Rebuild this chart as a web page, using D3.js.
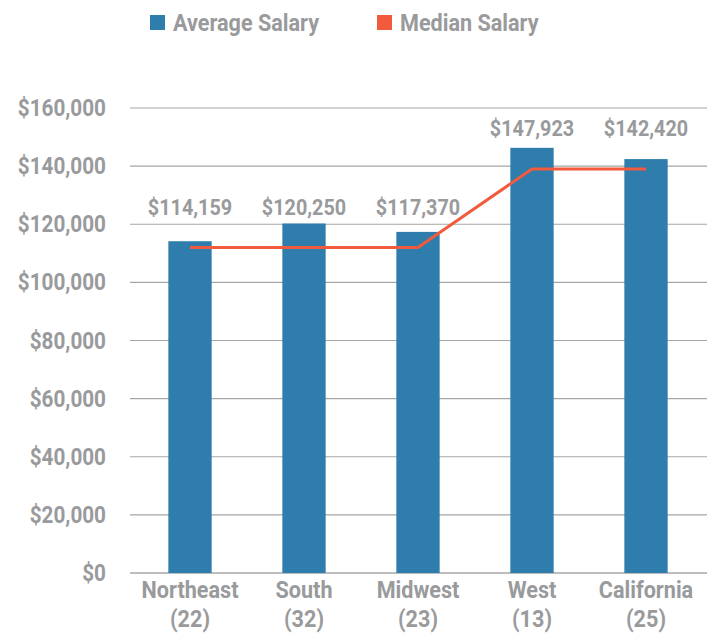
<!DOCTYPE html>
<html lang="en">
<head>
    <meta charset="UTF-8">
    <title>Salary by region</title>
    <script src="https://d3js.org/d3.v7.min.js"></script>
    <style>
        body { margin: 0; background: #fff; }
        text { font-family: Roboto, "Liberation Sans", sans-serif; font-weight: bold; fill: #999a9c; }
    </style>
</head>
<body>
    <div class="canvas"></div>
    <script>
        // data
        let regions = ["Northeast", "South", "Midwest", "West", "California"];
        let counts = ["(22)", "(32)", "(23)", "(13)", "(25)"];
        let avgSalary = [114159, 120250, 117370, 146300, 142420];   // bar heights as drawn
        let avgLabels = ["$114,159", "$120,250", "$117,370", "$147,923", "$142,420"];
        let medianSalary = [112000, 112000, 112000, 139000, 139000];
        let yTicks = [0, 20000, 40000, 60000, 80000, 100000, 120000, 140000, 160000];
        let seriesNames = ["Average Salary", "Median Salary"];

        let W = 709, H = 634;
        let blue = "#2e7dad", orange = "#f15a3d";
        let sx = 0.9; // squeeze text horizontally, the original font is condensed

        let svg = d3.select(".canvas").append("svg")
            .attr("width", W).attr("height", H);

        let x = d3.scaleBand().domain(regions).range([133, 703]).paddingInner(0.62).paddingOuter(0.31);
        let y = d3.scaleLinear().domain([0, 160000]).range([573, 108]);
        let fmt = d3.format("$,");

        function label(g, tx, ty, str, anchor, size) {
            return g.append("text")
                .attr("transform", "translate(" + tx + "," + ty + ") scale(" + sx + ",1)")
                .attr("text-anchor", anchor)
                .style("font-size", size + "px")
                .text(str);
        }

        // gridlines + y labels
        let grid = svg.append("g");
        yTicks.forEach(t => {
            grid.append("line")
                .attr("x1", 130).attr("x2", 707)
                .attr("y1", y(t)).attr("y2", y(t))
                .attr("stroke", t === 0 ? "#bdbdbd" : "#a6a6a6")
                .attr("stroke-width", t === 0 ? 2 : 1.2);
            label(grid, 106, y(t) + 8, fmt(t), "end", 23);
        });

        // bars
        svg.append("g").selectAll("rect").data(regions).enter().append("rect")
            .attr("x", d => x(d))
            .attr("y", (d, i) => y(avgSalary[i]))
            .attr("width", x.bandwidth())
            .attr("height", (d, i) => y(0) - y(avgSalary[i]))
            .attr("fill", blue);

        // median line
        let line = d3.line()
            .x((d, i) => x(regions[i]) + x.bandwidth() / 2)
            .y(d => y(d));
        svg.append("path")
            .datum(medianSalary)
            .attr("d", line)
            .attr("fill", "none")
            .attr("stroke", orange)
            .attr("stroke-width", 3);

        // value labels
        let vals = svg.append("g");
        regions.forEach((r, i) => {
            let cx = x(r) + x.bandwidth() / 2;
            label(vals, cx, y(medianSalary[i]) - 33, avgLabels[i], "middle", 22);
        });

        // category labels
        let cats = svg.append("g");
        regions.forEach((r, i) => {
            let cx = x(r) + x.bandwidth() / 2;
            label(cats, cx, 598, r, "middle", 24);
            label(cats, cx, 627, counts[i], "middle", 24);
        });

        // legend
        let leg = svg.append("g");
        let legX = [150, 377];
        seriesNames.forEach((s, i) => {
            leg.append("rect")
                .attr("x", legX[i]).attr("y", 15)
                .attr("width", 15).attr("height", 15)
                .attr("fill", i === 0 ? blue : orange);
            label(leg, legX[i] + 23, 31, s, "start", 24);
        });
    </script>
</body>
</html>
